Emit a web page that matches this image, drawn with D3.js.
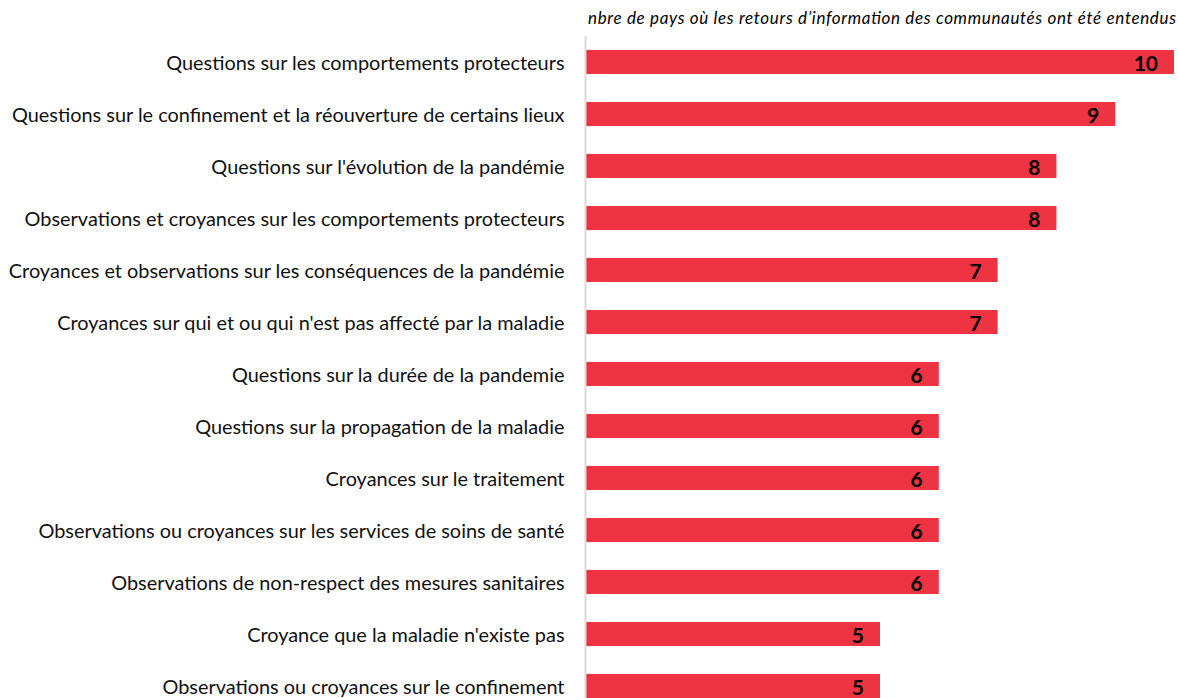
<!DOCTYPE html>
<html>
<head>
<meta charset="utf-8">
<script src="https://cdn.jsdelivr.net/npm/d3@7"></script>
<style>
  body { margin: 0; background: #fff; }
  svg { display: block; font-family: Lato, "Open Sans", sans-serif; }
</style>
</head>
<body>
<div id="chart"></div>
<script>
var categories = [
  "Questions sur les comportements protecteurs",
  "Questions sur le confinement et la réouverture de certains lieux",
  "Questions sur l'évolution de la pandémie",
  "Observations et croyances sur les comportements protecteurs",
  "Croyances et observations sur les conséquences de la pandémie",
  "Croyances sur qui et ou qui n'est pas affecté par la maladie",
  "Questions sur la durée de la pandemie",
  "Questions sur la propagation de la maladie",
  "Croyances sur le traitement",
  "Observations ou croyances sur les services de soins de santé",
  "Observations de non-respect des mesures sanitaires",
  "Croyance que la maladie n'existe pas",
  "Observations ou croyances sur le confinement"
];
var values = [10, 9, 8, 8, 7, 7, 6, 6, 6, 6, 6, 5, 5];
var title = "nbre de pays où les retours d’information des communautés ont été entendus";

var width = 1178, height = 698;
var x0 = 586, x1 = 1174, plotTop = 36, step = 52;

var svg = d3.select("#chart").append("svg")
  .attr("width", width)
  .attr("height", height);

var xScale = d3.scaleLinear()
  .domain([0, 10])
  .range([x0, x1]);

var yScale = d3.scaleBand()
  .domain(categories)
  .range([plotTop, plotTop + step * categories.length])
  .paddingInner(28 / 52)
  .paddingOuter(14 / 52);

// title (stretched a bit, the original font is wider)
svg.append("text")
  .attr("x", 1176)
  .attr("y", 24)
  .attr("text-anchor", "end")
  .attr("textLength", 588)
  .attr("lengthAdjust", "spacing")
  .style("font-style", "italic")
  .style("font-size", "17px")
  .style("fill", "#000")
  .text(title);

// bars
svg.selectAll(".bar")
  .data(values)
  .enter().append("rect")
  .attr("class", "bar")
  .attr("x", xScale(0))
  .attr("y", function (d, i) { return yScale(categories[i]); })
  .attr("width", function (d) { return xScale(d) - xScale(0); })
  .attr("height", yScale.bandwidth())
  .style("fill", "#EE3442");

// axis line on the left
var yAxis = d3.axisLeft(yScale).tickSize(0).tickPadding(21);
var gy = svg.append("g")
  .attr("transform", "translate(" + (x0 - 0.5) + ",0)")
  .call(yAxis);
gy.select(".domain")
  .attr("d", "M0," + plotTop + "V" + height)
  .style("stroke", "#d9d9d9")
  .style("stroke-width", 2);
gy.selectAll("text")
  .style("font-family", "Lato, sans-serif")
  .style("font-size", "19.9px")
  .style("fill", "#111")
  .attr("dy", "0.42em");

// value labels
svg.selectAll(".val")
  .data(values)
  .enter().append("text")
  .attr("class", "val")
  .attr("x", function (d) { return xScale(d) - 16; })
  .attr("y", function (d, i) { return yScale(categories[i]) + yScale.bandwidth() / 2; })
  .attr("dy", "0.44em")
  .attr("text-anchor", "end")
  .style("font-weight", "bold")
  .style("font-size", "21px")
  .style("fill", "#000")
  .text(function (d) { return d; });
</script>
</body>
</html>
